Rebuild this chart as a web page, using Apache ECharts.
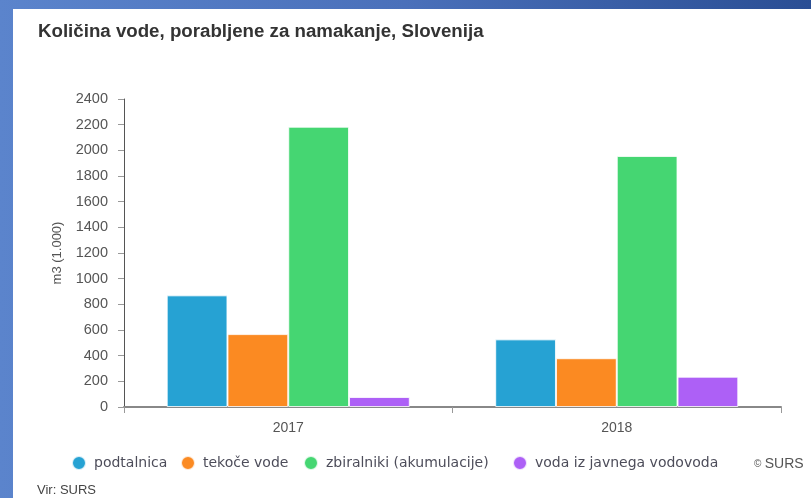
<!DOCTYPE html>
<html>
<head>
<meta charset="utf-8">
<script src="https://cdn.jsdelivr.net/npm/echarts@6/dist/echarts.min.js"></script>
<style>
html,body{margin:0;padding:0;width:811px;height:498px;overflow:hidden;}
body{background:linear-gradient(to right,#5b84cc 0%,#4a70ba 50%,#2a4e94 100%);position:relative;}
#panel{position:absolute;left:13px;top:9px;width:798px;height:489px;background:#fff;}
#chart{position:absolute;left:0;top:0;width:811px;height:498px;}
</style>
</head>
<body>
<div id="panel"></div>
<div id="chart"></div>
<script>
const categories = ['2017', '2018'];
const seriesNames = ['podtalnica', 'tekoče vode', 'zbiralniki (akumulacije)', 'voda iz javnega vodovoda'];
const podtalnica = [870, 527];
const tekoceVode = [568, 380];
const zbiralniki = [2184, 1956];
const vodaVodovod = [78, 236];
const yTicks = [0, 200, 400, 600, 800, 1000, 1200, 1400, 1600, 1800, 2000, 2200, 2400];
const colors = ['#26a2d3', '#fb8a22', '#45d672', '#ad60f6'];

const seriesValues = [podtalnica, tekoceVode, zbiralniki, vodaVodovod];
const legendLefts = [71, 180, 303, 512];

const chart = echarts.init(document.getElementById('chart'), null, {renderer: 'canvas'});
chart.setOption({
  backgroundColor: 'transparent',
  animation: false,
  title: {
    text: 'Količina vode, porabljene za namakanje, Slovenija',
    left: 33, top: 17,
    textStyle: {fontFamily: 'Liberation Sans, Arial', fontWeight: 'bold', fontSize: 18.7, color: '#333'}
  },
  legend: seriesNames.map((n, i) => ({
    data: [n],
    left: legendLefts[i], top: 455, padding: 0,
    icon: 'circle', itemWidth: 14, itemHeight: 14,
    selectedMode: false,
    textStyle: {fontFamily: 'DejaVu Sans, Verdana', fontSize: 14, color: '#4d4d5a', padding: [0, 0, 0, 3]}
  })),
  grid: {left: 124, right: 30, top: 99, bottom: 91, containLabel: false},
  xAxis: {
    type: 'category',
    data: categories,
    boundaryGap: true,
    axisLine: {lineStyle: {color: '#888', width: 2}},
    axisTick: {show: true, length: 6, lineStyle: {color: '#999'}},
    axisLabel: {fontFamily: 'Liberation Sans, Arial', fontSize: 14, color: '#555', margin: 14}
  },
  yAxis: {
    type: 'value',
    min: yTicks[0], max: yTicks[yTicks.length - 1], interval: 200,
    name: 'm3 (1.000)',
    nameLocation: 'middle', nameGap: 60, nameRotate: 90,
    nameTextStyle: {fontFamily: 'Liberation Sans, Arial', fontSize: 13, color: '#555'},
    axisLine: {show: true, lineStyle: {color: '#555', width: 1}},
    axisTick: {show: true, length: 6, lineStyle: {color: '#999'}},
    splitLine: {show: false},
    axisLabel: {fontFamily: 'Liberation Sans, Arial', fontSize: 14.5, color: '#555', margin: 16,
      formatter: v => String(v)}
  },
  series: seriesNames.map((n, i) => ({
    name: n,
    type: 'bar',
    data: seriesValues[i],
    barGap: '0%',
    barCategoryGap: '26%',
    itemStyle: {color: colors[i], borderColor: 'rgba(255,255,255,0.8)', borderWidth: 1}
  })),
  graphic: [
    {type: 'text', left: 754, top: 457, style: {
      text: '{c|©} {s|SURS}',
      rich: {
        c: {fontFamily: 'Liberation Sans, Arial', fontSize: 10, fill: '#555'},
        s: {fontFamily: 'Liberation Sans, Arial', fontSize: 14, fill: '#555'}
      }
    }},
    {type: 'text', left: 37, top: 484, style: {
      text: 'Vir: SURS', fontFamily: 'Liberation Sans, Arial', fontSize: 13, fill: '#444'
    }}
  ]
});
</script>
</body>
</html>
